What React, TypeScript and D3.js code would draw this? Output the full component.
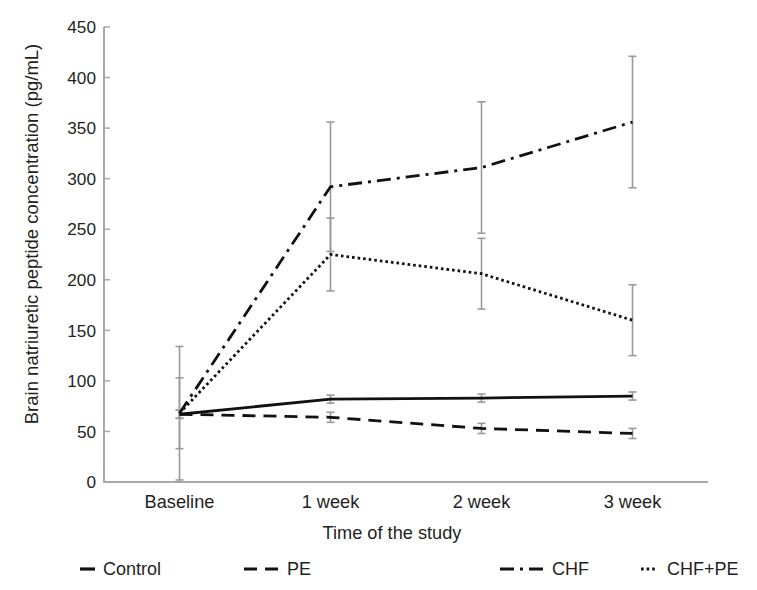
import React from "react";
import * as d3 from "d3";

const categories = ["Baseline", "1 week", "2 week", "3 week"];
const control = [67, 82, 83, 85];
const controlErr = [4, 4, 4, 4];
const pe = [67, 64, 53, 48];
const peErr = [4, 5, 5, 5];
const chf = [68, 292, 311, 356];
const chfErr = [66, 64, 65, 65];
const chfpe = [68, 225, 206, 160];
const chfpeErr = [35, 36, 35, 35];
const yTicks = [0, 50, 100, 150, 200, 250, 300, 350, 400, 450];
const seriesNames = ["Control", "PE", "CHF", "CHF+PE"];

const W = 757;
const H = 590;
const FONT = "'Liberation Sans', Arial, Helvetica, sans-serif";

export default function App() {
  const x = d3.scaleBand<string>().domain(categories).range([104, 708]).padding(0);
  const y = d3.scaleLinear().domain([0, 450]).range([482, 27]);
  const cx = (c: string) => (x(c) as number) + x.bandwidth() / 2;

  const series = [
    { name: seriesNames[0], values: control, err: controlErr, dash: "none", width: 2.8 },
    { name: seriesNames[1], values: pe, err: peErr, dash: "13 8", width: 2.8 },
    { name: seriesNames[2], values: chf, err: chfErr, dash: "14 6 3 6", width: 2.8 },
    { name: seriesNames[3], values: chfpe, err: chfpeErr, dash: "2.6 3", width: 2.8 },
  ];

  const line = d3
    .line<number>()
    .x((_, i) => cx(categories[i]))
    .y((d) => y(d));

  const axisColor = "#a8a8a8";
  const errColor = "#9a9a9a";
  const textColor = "#231f20";

  const legend = [
    { x: 80, len: 15, dash: "none", tx: 103 },
    { x: 244, len: 34, dash: "13 8", tx: 287 },
    { x: 500, len: 43, dash: "14 6 3 6", tx: 552 },
    { x: 641, len: 14, dash: "2.6 3", tx: 667 },
  ];

  return (
    <div style={{ position: "absolute", left: 0, top: 0 }}>
      <svg width={W} height={H} style={{ display: "block", background: "#fff" }} fontFamily={FONT}>
        {/* axes */}
        <line x1={104} x2={104} y1={y(450)} y2={y(0)} stroke={axisColor} strokeWidth={2} />
        <line x1={103} x2={708} y1={y(0)} y2={y(0)} stroke={axisColor} strokeWidth={2} />
        {yTicks.map((t) => (
          <g key={t}>
            <line x1={104} x2={110} y1={y(t)} y2={y(t)} stroke={axisColor} strokeWidth={1.5} />
            <text x={96} y={y(t)} dy="0.36em" textAnchor="end" fontSize={17.2} fill={textColor}>
              {t}
            </text>
          </g>
        ))}
        {categories.map((c) => (
          <text key={c} x={cx(c)} y={508} textAnchor="middle" fontSize={18.2} fill={textColor}>
            {c}
          </text>
        ))}
        <text x={392} y={539} textAnchor="middle" fontSize={18.2} fill={textColor}>
          Time of the study
        </text>
        <text
          transform={`translate(38, 234) rotate(-90)`}
          textAnchor="middle"
          fontSize={18.5}
          fill={textColor}
        >
          Brain natriuretic peptide concentration (pg/mL)
        </text>

        {/* error bars */}
        {series.map((s) =>
          s.values.map((v, i) => {
            const px = cx(categories[i]);
            const top = y(v + s.err[i]);
            const bot = y(Math.max(0, v - s.err[i]));
            return (
              <g key={s.name + i} stroke={errColor} strokeWidth={1.6}>
                <line x1={px} x2={px} y1={top} y2={bot} />
                <line x1={px - 4} x2={px + 4} y1={top} y2={top} />
                <line x1={px - 4} x2={px + 4} y1={bot} y2={bot} />
              </g>
            );
          })
        )}

        {/* lines */}
        {series.map((s) => (
          <path
            key={s.name}
            d={line(s.values) as string}
            fill="none"
            stroke="#111"
            strokeWidth={s.width}
            strokeDasharray={s.dash}
          />
        ))}

        {/* legend */}
        {series.map((s, i) => (
          <g key={"lg" + s.name}>
            <line
              x1={legend[i].x}
              x2={legend[i].x + legend[i].len}
              y1={569}
              y2={569}
              stroke="#111"
              strokeWidth={3.2}
              strokeDasharray={legend[i].dash}
            />
            <text x={legend[i].tx} y={569} dy="0.36em" fontSize={18} fill={textColor}>
              {s.name}
            </text>
          </g>
        ))}
      </svg>
    </div>
  );
}
